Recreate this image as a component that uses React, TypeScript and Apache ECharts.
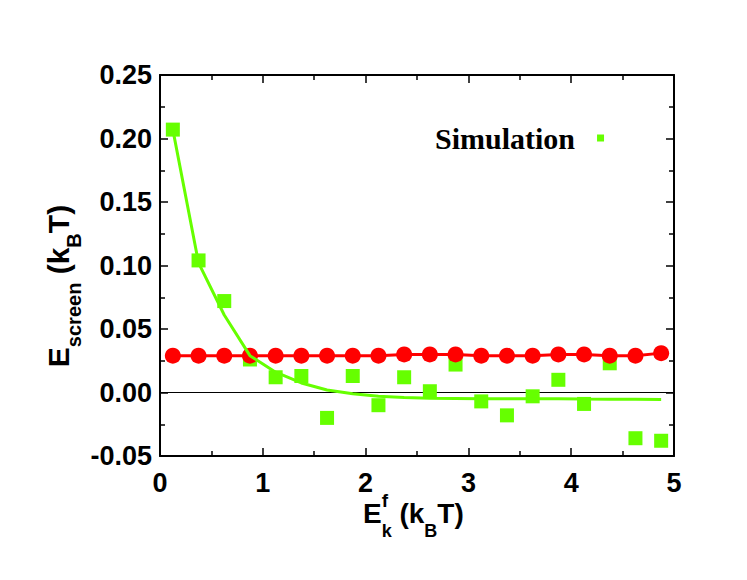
import React, { useEffect, useRef } from "react";
import * as echarts from "echarts";

// x positions of the samples (E_k^f in k_B T)
const xValues = [
  0.125, 0.375, 0.625, 0.875, 1.125, 1.375, 1.625, 1.875, 2.125, 2.375,
  2.625, 2.875, 3.125, 3.375, 3.625, 3.875, 4.125, 4.375, 4.625, 4.875,
];
// green squares: simulation
const simulationValues = [
  0.207, 0.104, 0.072, 0.026, 0.012, 0.013, -0.02, 0.013, -0.01, 0.012,
  0.001, 0.022, -0.007, -0.018, -0.003, 0.01, -0.009, 0.023, -0.036, -0.038,
];
// green line: fit through the simulation
const fitValues = [
  0.207, 0.102, 0.061, 0.029, 0.016, 0.0075, 0.002, -0.001, -0.003, -0.004,
  -0.0045, -0.0047, -0.0049, -0.005, -0.005, -0.005, -0.0052, -0.0053, -0.0054, -0.0055,
];
// red circles
const redValues = [
  0.029, 0.029, 0.029, 0.029, 0.029, 0.029, 0.029, 0.029, 0.029, 0.03,
  0.03, 0.03, 0.029, 0.029, 0.029, 0.03, 0.03, 0.029, 0.029, 0.031,
];
// zero reference line
const zeroX = [0, 5];
const zeroY = [0, 0];

const xMin = 0;
const xMax = 5;
const xInterval = 1;
const yMin = -0.05;
const yMax = 0.25;
const yInterval = 0.05;

const GREEN = "#66ff00";
const RED = "#ff0000";
const SANS = "'Liberation Sans', Arial, sans-serif";
const SERIF = "'Liberation Serif', 'Times New Roman', serif";

export default function App() {
  const ref = useRef<HTMLDivElement>(null);

  useEffect(() => {
    if (!ref.current) return;
    const chart = echarts.init(ref.current, undefined, { renderer: "svg" });

    const axisLine = { show: true, onZero: false, lineStyle: { color: "#000", width: 2 } };
    const axisTick = { show: true, inside: true, length: 8, lineStyle: { color: "#000", width: 1.5 } };
    const minorTick = { show: true, splitNumber: 2, length: 5, lineStyle: { color: "#000", width: 1.5 } };
    const labelStyle = { color: "#000", fontFamily: SANS, fontWeight: "bold" as const, fontSize: 27 };

    const option: any = {
      animation: false,
      grid: { left: 160, right: 73, top: 75, bottom: 124, outerBoundsMode: "none" },
      legend: {
        data: [{ name: "Simulation", icon: "rect" }],
        left: 435,
        top: 123,
        padding: 0,
        align: "right",
        itemWidth: 7,
        itemHeight: 7,
        selectedMode: false,
        itemStyle: { opacity: 1 },
        textStyle: { fontFamily: SERIF, fontWeight: "bold", fontSize: 30, color: "#000", padding: [0, 17, 0, 0] },
      },
      xAxis: [
        {
          type: "value", position: "bottom", min: xMin, max: xMax, interval: xInterval,
          axisLine, axisTick, minorTick, splitLine: { show: false },
          axisLabel: { ...labelStyle, margin: 13 },
        },
        {
          type: "value", position: "top", min: xMin, max: xMax, interval: xInterval,
          axisLine, axisTick, minorTick, splitLine: { show: false },
          axisLabel: { show: false },
        },
      ],
      yAxis: [
        {
          type: "value", position: "left", min: yMin, max: yMax, interval: yInterval,
          axisLine, axisTick, minorTick, splitLine: { show: false },
          axisLabel: { ...labelStyle, margin: 8, formatter: (v: number) => v.toFixed(2) },
        },
        {
          type: "value", position: "right", min: yMin, max: yMax, interval: yInterval,
          axisLine, axisTick, minorTick, splitLine: { show: false },
          axisLabel: { show: false },
        },
      ],
      series: [
        {
          name: "zero", type: "line", z: 1, silent: true, symbol: "none",
          data: zeroX.map((x, i) => [x, zeroY[i]]),
          lineStyle: { color: "#000", width: 1 },
        },
        {
          name: "Simulation", type: "scatter", z: 3, symbol: "rect", symbolSize: 14,
          data: xValues.map((x, i) => [x, simulationValues[i]]),
          itemStyle: { color: GREEN, opacity: 1 },
        },
        {
          name: "Screen", type: "line", z: 4, symbol: "circle", symbolSize: 16, showAllSymbol: true,
          data: xValues.map((x, i) => [x, redValues[i]]),
          itemStyle: { color: RED, opacity: 1 },
          lineStyle: { color: RED, width: 3 },
        },
        {
          name: "Fit", type: "line", z: 5, symbol: "none",
          data: xValues.map((x, i) => [x, fitValues[i]]),
          lineStyle: { color: GREEN, width: 3, opacity: 1 },
          itemStyle: { color: GREEN },
        },
      ],
      graphic: [
        {
          type: "text",
          x: 363,
          y: 491,
          z: 10,
          style: {
            text: "{m|E}{sup|f}{sub|k}{m| (k}{sub|B}{m|T)}",
            align: "left",
            verticalAlign: "top",
            fill: "#000",
            rich: {
              m: { fontFamily: SANS, fontWeight: "bold", fontSize: 28, padding: [8.5, 0, 0, 0], verticalAlign: "top", align: "left", fill: "#000" },
              sup: { fontFamily: SANS, fontWeight: "bold", fontSize: 19, width: 0, verticalAlign: "top", align: "left", fill: "#000" },
              sub: { fontFamily: SANS, fontWeight: "bold", fontSize: 18, padding: [30.5, 0, 0, 0], verticalAlign: "top", align: "left", fill: "#000" },
            },
          },
        },
        {
          type: "text",
          x: 43,
          y: 286,
          rotation: Math.PI / 2,
          z: 10,
          style: {
            text: "{m|E}{sub|screen}{m| (k}{sub|B}{m|T)}",
            align: "center",
            verticalAlign: "top",
            fill: "#000",
            rich: {
              m: { fontFamily: SANS, fontWeight: "bold", fontSize: 30, verticalAlign: "top", align: "left", fill: "#000" },
              sub: { fontFamily: SANS, fontWeight: "bold", fontSize: 20, padding: [20.5, 0, 0, 0], verticalAlign: "top", align: "left", fill: "#000" },
            },
          },
        },
      ],
    };

    chart.setOption(option);
    return () => chart.dispose();
  }, []);

  return (
    <div
      ref={ref}
      style={{ position: "absolute", left: 0, top: 0, width: 747, height: 580, background: "#fff" }}
    />
  );
}
